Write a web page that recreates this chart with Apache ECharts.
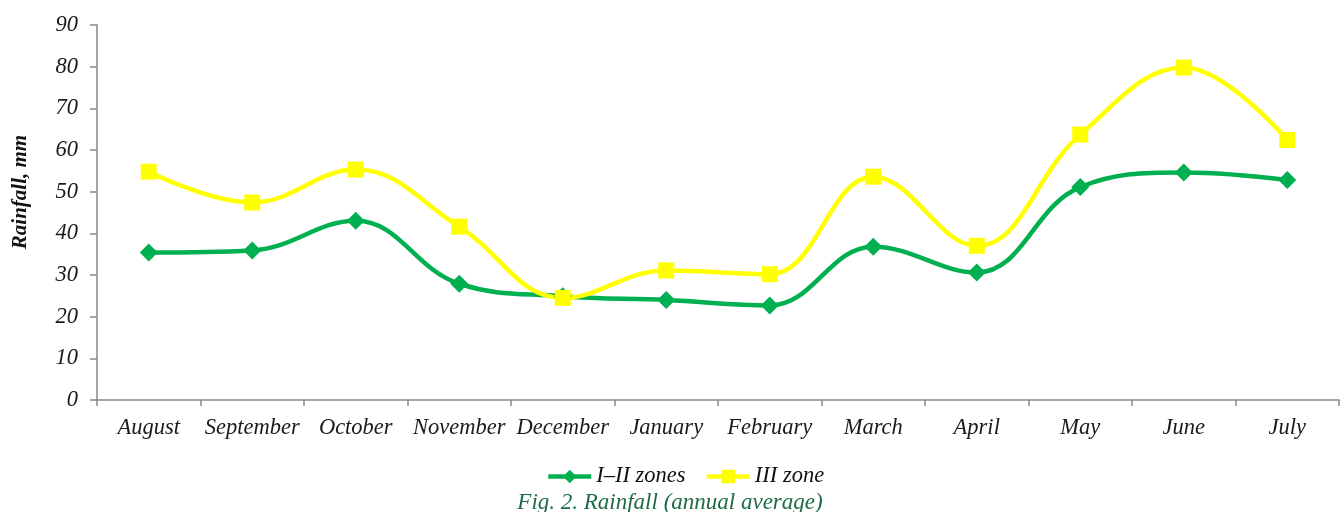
<!DOCTYPE html>
<html><head><meta charset="utf-8">
<script src="https://cdn.jsdelivr.net/npm/echarts@6/dist/echarts.min.js"></script>
<style>html,body{margin:0;padding:0;background:#fff}#c{width:1340px;height:512px}</style>
</head><body><div id="c"></div>
<script>
const categories = ['August','September','October','November','December','January','February','March','April','May','June','July'];
const zonesI_II = [35.4, 35.9, 43.0, 27.9, 24.9, 24.0, 22.7, 36.8, 30.6, 51.1, 54.6, 52.8];
const zoneIII = [54.8, 47.4, 55.3, 41.6, 24.5, 31.1, 30.2, 53.6, 37.0, 63.7, 79.8, 62.4];
const yTicks = {min: 0, max: 90, interval: 10};
const legendNames = ['I\u2013II zones', 'III zone'];
const yTitle = 'Rainfall, mm';
const caption = 'Fig. 2. Rainfall (annual average)';

const chart = echarts.init(document.getElementById('c'));
const fontSerif = '"Liberation Serif", "DejaVu Serif", serif';
chart.setOption({
  animation: false,
  grid: {left: 97, right: 1, top: 25, bottom: 112},
  xAxis: {
    type: 'category', data: categories, boundaryGap: true,
    axisLine: {lineStyle: {color: '#888', width: 1.5}},
    axisTick: {show: true, length: 6, lineStyle: {color: '#888', width: 1.5}},
    axisLabel: {fontFamily: fontSerif, fontStyle: 'italic', fontSize: 22.5, color: '#1a1a1a', margin: 17, interval: 0}
  },
  yAxis: {
    type: 'value', min: yTicks.min, max: yTicks.max, interval: yTicks.interval,
    axisLine: {show: true, lineStyle: {color: '#888', width: 1.5}},
    axisTick: {show: true, length: 7, lineStyle: {color: '#888', width: 1.5}},
    splitLine: {show: false},
    axisLabel: {fontFamily: fontSerif, fontStyle: 'italic', fontSize: 22.5, color: '#1a1a1a', margin: 19}
  },
  legend: {
    left: 546, top: 465, padding: 0, itemWidth: 43, itemHeight: 17, itemGap: 19,
    textStyle: {fontFamily: fontSerif, fontStyle: 'italic', fontSize: 22.5, color: '#111'},
    lineStyle: {width: 4.5},
    data: legendNames
  },
  graphic: [{
    type: 'text', x: 21, y: 192, rotation: Math.PI / 2,
    style: {text: yTitle, fontFamily: fontSerif, fontStyle: 'italic', fontWeight: 'bold', fontSize: 21, fill: '#111',
            align: 'center', verticalAlign: 'middle'}
  }, {
    type: 'text', left: 'center', top: 491,
    style: {text: caption, fontFamily: fontSerif, fontStyle: 'italic', fontSize: 23, fill: '#1e6b45'}
  }],
  series: [
    {name: legendNames[0], type: 'line', data: zonesI_II, smooth: 0.4,
     symbol: 'diamond', symbolSize: 18,
     lineStyle: {color: '#00b050', width: 4.5}, itemStyle: {color: '#00b050'}},
    {name: legendNames[1], type: 'line', data: zoneIII, smooth: 0.4,
     symbol: 'rect', symbolSize: 16,
     lineStyle: {color: '#ffff00', width: 4.5}, itemStyle: {color: '#ffff00'}}
  ]
});
</script></body></html>
